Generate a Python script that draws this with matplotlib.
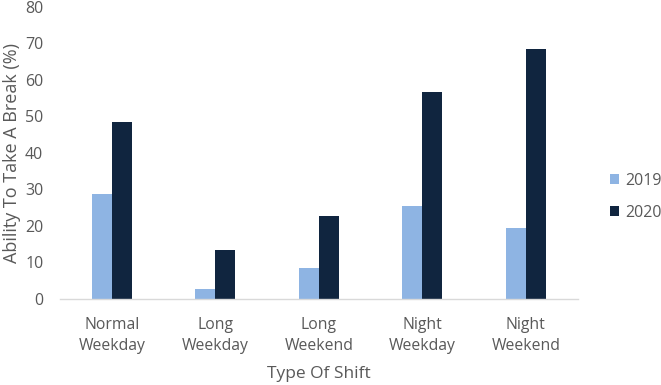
import matplotlib
matplotlib.use("Agg")
import matplotlib.pyplot as plt
import numpy as np

categories = ["Normal\nWeekday", "Long\nWeekday", "Long\nWeekend", "Night\nWeekday", "Night\nWeekend"]
series_names = ["2019", "2020"]
values_2019 = [28.7, 2.6, 8.6, 25.5, 19.5]
values_2020 = [48.6, 13.5, 22.6, 56.6, 68.4]
yticks = [0, 10, 20, 30, 40, 50, 60, 70, 80]

plt.rcParams['font.family'] = ['Open Sans', 'DejaVu Sans']
text_color = "#595959"

fig = plt.figure(figsize=(6.61, 3.85), dpi=100)
ax = fig.add_axes([0.0908, 0.2234, 0.783, 0.7586])

x = np.arange(len(categories))
w = 0.195
ax.bar(x - w / 2, values_2019, width=w, color="#8eb4e3", label=series_names[0])
ax.bar(x + w / 2, values_2020, width=w, color="#10253f", label=series_names[1])

ax.set_xlim(-0.5, len(categories) - 0.5)
ax.set_ylim(0, 80)
ax.set_yticks(yticks)
ax.set_xticks(x)
ax.set_xticklabels(categories, fontsize=11.3, color=text_color, linespacing=1.4)
ax.tick_params(axis='y', labelsize=11.5, colors=text_color, length=0, pad=12)
ax.tick_params(axis='x', length=0, pad=13)
for s in ["top", "right", "left"]:
    ax.spines[s].set_visible(False)
ax.spines["bottom"].set_color("#d9d9d9")
ax.spines["bottom"].set_linewidth(1)

ax.set_ylabel("Ability To Take A Break (%)", fontsize=13, color=text_color, labelpad=3)
ax.set_xlabel("Type Of Shift", fontsize=12.5, color=text_color, labelpad=9)

leg = ax.legend(loc="center left", bbox_to_anchor=(1.035, 0.35), frameon=False,
                fontsize=11.5, handlelength=0.55, handleheight=0.55, handletextpad=0.4,
                labelspacing=1.0, labelcolor=text_color)

fig.savefig("out.png", dpi=100)
